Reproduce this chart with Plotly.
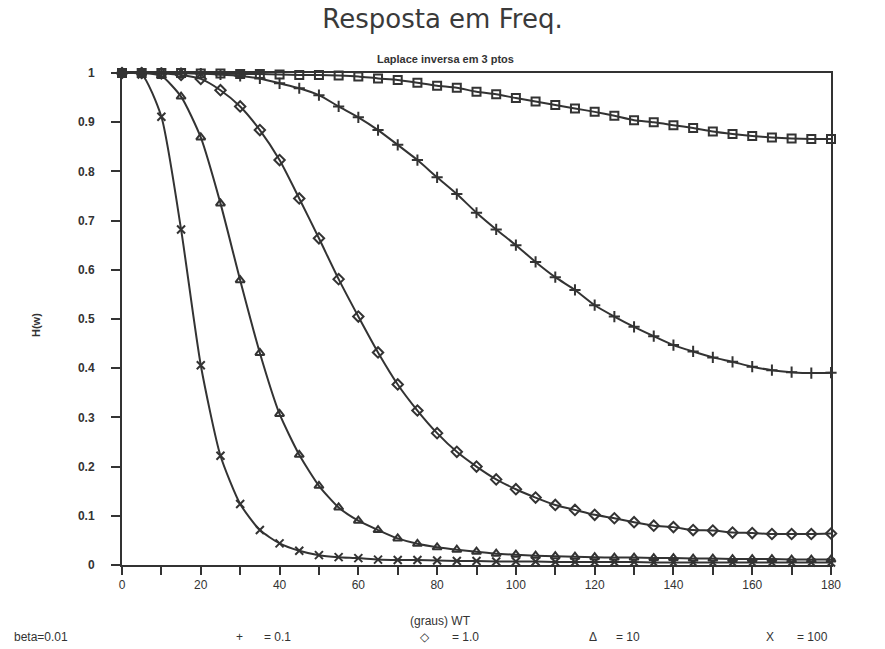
import plotly.graph_objects as go

# ---- data ----
wt = [0, 5, 10, 15, 20, 25, 30, 35, 40, 45, 50, 55, 60, 65, 70, 75, 80, 85, 90,
      95, 100, 105, 110, 115, 120, 125, 130, 135, 140, 145, 150, 155, 160, 165,
      170, 175, 180]

h_beta_001 = [1.000, 1.000, 1.000, 1.000, 0.999, 0.999, 0.998, 0.998, 0.997, 0.996,
              0.996, 0.995, 0.993, 0.989, 0.986, 0.980, 0.974, 0.970, 0.962, 0.957,
              0.949, 0.942, 0.935, 0.928, 0.921, 0.913, 0.904, 0.900, 0.894, 0.888,
              0.881, 0.876, 0.872, 0.869, 0.867, 0.866, 0.866]

h_beta_01 = [1.000, 1.000, 1.000, 1.000, 0.999, 0.997, 0.994, 0.989, 0.979, 0.969,
             0.955, 0.932, 0.910, 0.884, 0.854, 0.823, 0.788, 0.754, 0.716, 0.682,
             0.650, 0.616, 0.585, 0.559, 0.528, 0.505, 0.484, 0.465, 0.447, 0.434,
             0.422, 0.413, 0.403, 0.396, 0.392, 0.390, 0.391]

h_beta_1 = [1.000, 1.000, 0.999, 0.996, 0.988, 0.965, 0.932, 0.884, 0.823, 0.745,
            0.664, 0.581, 0.505, 0.432, 0.367, 0.314, 0.268, 0.230, 0.200, 0.174,
            0.154, 0.137, 0.122, 0.112, 0.102, 0.095, 0.087, 0.080, 0.077, 0.071,
            0.070, 0.066, 0.065, 0.063, 0.063, 0.063, 0.064]

h_beta_10 = [1.000, 1.000, 0.994, 0.952, 0.869, 0.735, 0.579, 0.431, 0.307, 0.224,
             0.161, 0.117, 0.090, 0.071, 0.054, 0.043, 0.036, 0.031, 0.027, 0.023,
             0.021, 0.019, 0.018, 0.017, 0.016, 0.015, 0.015, 0.014, 0.014, 0.013,
             0.013, 0.012, 0.012, 0.012, 0.011, 0.011, 0.011]

h_beta_100 = [1.000, 0.997, 0.911, 0.682, 0.406, 0.222, 0.124, 0.071, 0.044, 0.029,
              0.020, 0.016, 0.014, 0.011, 0.010, 0.010, 0.009, 0.008, 0.008, 0.007,
              0.007, 0.007, 0.006, 0.006, 0.006, 0.006, 0.006, 0.005, 0.005, 0.005,
              0.005, 0.005, 0.005, 0.005, 0.005, 0.005, 0.005]

series_names = ["beta=0.01", "beta=0.1", "beta=1.0", "beta=10", "beta=100"]
series_values = [h_beta_001, h_beta_01, h_beta_1, h_beta_10, h_beta_100]
series_symbols = ["square-open", "cross-thin", "diamond-open", "triangle-up-open", "x-thin"]

x_tick_vals = [0, 20, 40, 60, 80, 100, 120, 140, 160, 180]
y_tick_vals = [0, 0.1, 0.2, 0.3, 0.4, 0.5, 0.6, 0.7, 0.8, 0.9, 1]
y_tick_text = ["0", "0.1", "0.2", "0.3", "0.4", "0.5", "0.6", "0.7", "0.8", "0.9", "1"]

legend_labels = ["beta=0.01", "+", "= 0.1", "\u25c7", "= 1.0", "\u0394", "= 10", "X", "= 100"]

# ---- figure ----
INK = "#333333"
W, H = 885, 649
L, R, T, B = 122, 54, 73, 84
PW = W - L - R
PH = H - T - B


def px_to_paper_x(px):
    return (px - L) / PW


def px_to_paper_y(py):
    return (H - B - py) / PH


fig = go.Figure()
for name, vals, sym in zip(series_names, series_values, series_symbols):
    fig.add_trace(go.Scatter(
        x=wt, y=vals, name=name, mode="lines+markers",
        line=dict(color=INK, width=2, shape="spline", smoothing=0.6),
        marker=dict(symbol=sym, size=8, color=INK, line=dict(color=INK, width=2)),
        cliponaxis=False, showlegend=False,
    ))

fig.update_layout(
    width=W, height=H,
    margin=dict(l=L, r=R, t=T, b=B),
    paper_bgcolor="white", plot_bgcolor="white",
    font=dict(family="Liberation Sans, Arial, sans-serif", color=INK),
    title=dict(text="Resposta em Freq.", x=0.5, xref="container", xanchor="center",
               y=1 - 19 / H, yref="container", yanchor="middle",
               font=dict(family="DejaVu Sans, sans-serif", size=26, color="#3a3a3a")),
)

fig.update_xaxes(
    range=[0, 180], tickvals=x_tick_vals, ticks="outside", ticklen=8, tickwidth=2,
    tickcolor=INK, showgrid=False, zeroline=False,
    showline=True, linecolor=INK, linewidth=2, mirror=True,
    minor=dict(dtick=10, tick0=0, ticks="outside", ticklen=8, tickwidth=2, tickcolor=INK),
    tickfont=dict(size=12, color=INK),
)
fig.update_yaxes(
    range=[0, 1], tickvals=y_tick_vals, ticktext=y_tick_text, ticks="outside",
    ticklen=9, tickwidth=2, tickcolor=INK, showgrid=False, zeroline=False,
    showline=True, linecolor=INK, linewidth=2, mirror=True,
    ticklabelstandoff=14,
    tickfont=dict(size=12, color=INK, weight="bold"),
)

# subtitle
fig.add_annotation(text="Laplace inversa em 3 ptos", xref="paper", yref="paper",
                   x=px_to_paper_x(445), y=px_to_paper_y(59), showarrow=False,
                   xanchor="center", yanchor="middle",
                   font=dict(size=11, color=INK, weight="bold"))
# y axis title
fig.add_annotation(text="H(w)", xref="paper", yref="paper", textangle=-90,
                   x=px_to_paper_x(36), y=px_to_paper_y(325), showarrow=False,
                   xanchor="center", yanchor="middle",
                   font=dict(size=11, color=INK, weight="bold"))
# x axis title
fig.add_annotation(text="(graus) WT", xref="paper", yref="paper",
                   x=px_to_paper_x(440), y=px_to_paper_y(621), showarrow=False,
                   xanchor="center", yanchor="middle",
                   font=dict(size=12, color=INK))
# legend row (as in original: symbol then "= value")
legend_pos = [12, 234, 262, 418, 450, 587, 614, 764, 795]
for txt, px in zip(legend_labels, legend_pos):
    fig.add_annotation(text=txt, xref="paper", yref="paper",
                       x=px_to_paper_x(px), y=px_to_paper_y(637), showarrow=False,
                       xanchor="left", yanchor="middle",
                       font=dict(size=12, color=INK))

fig.write_html(
    "out.html",
    config={"displayModeBar": False},
    post_script="document.body.style.margin='0';document.body.style.overflow='hidden';",
)
